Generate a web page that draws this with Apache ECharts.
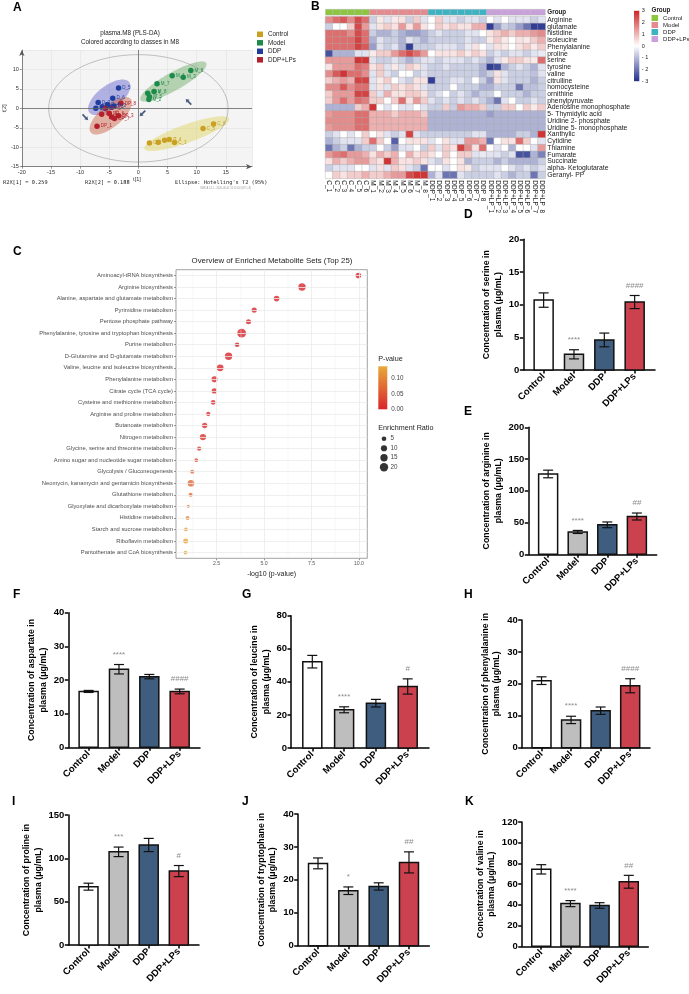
<!DOCTYPE html>
<html lang="en">
<head>
<meta charset="UTF-8">
<title>Plasma metabolomics</title>
<script src="https://cdn.jsdelivr.net/npm/echarts@6/dist/echarts.min.js"></script>
<style>
html,body{margin:0;padding:0;background:#fff;}
#main{width:689px;height:994px;}
</style>
</head>
<body>
<div id="main"></div>
<script>
var font = 'Liberation Sans, Arial, sans-serif';

// ---------- A: PLS-DA scores ----------
var plsGroups = ['Control', 'Model', 'DDP', 'DDP+LPs'];
var plsColors = ['#c9a022', '#1c8a4a', '#1f3d9c', '#b3202b'];
var ctrlScores = [[1.9, -8.9, 'C_1'], [3.4, -8.7, ''], [4.5, -8.2, 'C_2'], [5.3, -8.0, 'C_4'], [6.2, -8.8, 'C_3'], [11.1, -5.2, 'C_5'], [12.9, -4.05, 'C_6']];
var modelScores = [[5.8, 8.4, 'M_1'], [9.0, 9.7, 'M_9'], [7.7, 8.0, 'M_3'], [3.2, 6.3, 'M_7'], [1.6, 3.9, 'M_4'], [2.7, 4.3, 'M_8'], [1.9, 3.0, 'M_5'], [1.8, 2.3, 'M_2']];
var ddpScores = [[-3.4, 5.2, 'D_5'], [-4.4, 2.6, 'D_6'], [-6.9, 1.5, 'D_7'], [-6.2, 0.4, 'D_1'], [-5.3, 1.0, 'D_4'], [-4.2, 0.6, 'D_3'], [-7.3, 0.0, 'D_2'], [-4.6, 0.3, 'D_8']];
var lpsScores = [[-3.0, 1.3, 'DP_8'], [-6.3, -1.5, 'DP_4'], [-5.0, -1.3, 'DP_6'], [-4.6, -2.2, 'DP_2'], [-4.1, -2.6, 'DP_7'], [-3.4, -1.9, 'DP_3'], [-7.1, -4.6, 'DP_1'], [-5.6, 0.0, 'DP_5']];
// ellipse: centre x, centre y, half-axis u (x,y), half-axis v (x,y)
var ctrlEllipse = [8.3, -6.5, 7.27, 3.88, 0.52, -2.2];
var modelEllipse = [6.0, 6.9, 5.65, 4.74, 0.75, -2.03];
var ddpEllipse = [-5.0, 2.84, 3.43, 3.88, 1.2, -2.41];
var lpsEllipse = [-4.74, -1.9, 3.43, 4.31, 1.2, -2.19];
var t2Ellipse = [0, 0, 15.4, 0, 0, 13.8];
var plsArrows = [[-9.1, -2.3, -135], [0.7, -1.3, 135], [8.6, 1.7, 45]];

// ---------- B: heatmap ----------
var heatCols = ['C_1','C_2','C_3','C_4','C_5','C_6','M_1','M_2','M_3','M_4','M_5','M_6','M_7','M_8',
  'DDP_1','DDP_2','DDP_3','DDP_4','DDP_5','DDP_6','DDP_7','DDP_8',
  'DDP+LP_1','DDP+LP_2','DDP+LP_3','DDP+LP_4','DDP+LP_5','DDP+LP_6','DDP+LP_7','DDP+LP_8'];
var heatColGroup = [0,0,0,0,0,0,1,1,1,1,1,1,1,1,2,2,2,2,2,2,2,2,3,3,3,3,3,3,3,3];
var heatGroupColors = ['#8cc63f', '#e58a8f', '#3bb3c3', '#c9a0dc'];
var heatRowNames = ['Arginine','glutamate','histidine','isoleucine','Phenylalanine','proline','serine','tyrosine','valine','citrulline',
  'homocysteine','ornithine','phenylpyruvate','Adenosine monophosphate','5- Thymidylic acid','Uridine 2- phosphate',
  'Uridine 5- monophosphate','Xanthylic','Cytidine','Thiamine','Fumarate','Succinate','alpha- Ketoglutarate','Geranyl- PP'];
var heatValues = [
  [1.6,2.0,2.3,1.6,2.5,2.0, -0.7,0.3,-0.4,0.3,0.4,-0.7,0.7,-0.4, 0,0.7,-0.4,-0.4,-0.7,-0.4,-0.4,-0.7, 0,-0.4,0,-0.4,-0.4,-0.4,-0.7,-0.4],
  [-0.7,0,0,0.7,2.5,1.4, -0.4,0.4,0.7,0.4,1.4,0.4,1.4,0.4, 0,0.7,0.4,0.7,0.4,0.4,1.1,1.1, -2.8,-1.4,-0.7,-0.9,-1.4,-2.0,-2.8,-2.8],
  [2.0,2.0,2.0,1.6,2.5,2.0, -0.7,-1.1,-1.1,-0.7,-1.1,-1.4,-1.4,-1.1, -0.7,-0.4,-0.7,-0.7,-0.7,-0.4,-0.4,0, 0.4,0.7,1.1,0.7,1.1,1.1,1.4,1.6],
  [2.0,2.0,2.0,2.0,2.6,2.0, -1.1,-0.4,-0.7,-0.7,-1.1,-0.4,-0.7,-1.1, -0.7,-0.7,-0.7,-0.7,-0.7,-0.4,-0.7,-0.7, 0.3,0.7,0.3,0,0.4,0.3,0.7,1.1],
  [2.0,2.0,2.0,2.0,2.6,2.3, -1.4,-0.4,-0.7,-0.4,-1.1,-2.8,-0.7,-0.7, -0.7,-0.4,-0.4,-0.4,-0.7,-0.3,0.4,0, -0.4,0.4,0.3,0,0.4,0.7,0.3,0.7],
  [-2.5,-1.1,-1.1,-1.1,-0.4,-0.4, 0.3,0.7,0.7,1.4,2.0,2.5,2.0,1.4, 0,0.4,0.4,0.4,0.7,0.3,0.7,0.4, -0.7,-0.4,-0.7,-0.4,-0.4,-0.7,-0.4,-0.3],
  [1.4,1.4,1.4,1.4,2.8,2.8, -0.4,-0.7,-0.7,-0.4,-0.7,-1.1,-0.7,-0.4, -0.4,-0.7,-0.4,-0.4,-0.4,-0.7,-0.4,-0.7, -1.1,-0.4,0.3,0.7,0.7,0.4,0.3,2.0],
  [0.4,1.4,1.4,1.4,2.0,1.8, 0.4,0.7,-0.4,0.3,-0.4,0.7,0.4,-0.4, -0.7,-0.7,-0.4,-0.7,-0.7,-0.7,-0.7,-1.1, -2.8,-2.6,-1.1,-0.7,-0.4,-0.7,-1.1,-0.4],
  [1.6,2.3,2.8,2.0,2.0,1.6, -0.4,0.7,-0.4,-0.7,0,0,-0.7,-0.4, -0.7,-0.7,-0.7,-0.7,-0.7,-0.7,-0.7,-1.1, -0.7,0.4,-0.4,-0.7,-0.7,-0.7,-0.9,-0.4],
  [0.7,1.1,1.4,1.1,2.6,2.6, -0.4,0.3,0.7,0,-0.4,-0.7,0.4,0.4, -2.8,-0.7,-0.7,-0.4,-0.4,-0.7,0,-0.7, -1.4,0.4,-0.4,-0.7,-0.7,-0.7,-1.1,-0.7],
  [1.6,1.6,2.3,1.6,2.0,2.0, -0.4,0.4,-0.4,0.7,0.4,0.7,0.4,-0.4, -0.7,-0.7,-0.7,0,-0.7,-0.7,-0.7,-1.1, -1.1,-0.7,-0.7,-0.7,-2.0,-0.9,-0.9,-0.7],
  [0.7,1.4,1.4,1.4,2.6,2.6, 0.7,-0.4,1.1,0.4,0.4,0.7,0.7,0.4, -0.7,-0.4,0,-0.7,-0.4,-0.7,-1.1,-0.7, -0.7,0,-0.7,-0.7,-0.7,-1.1,-0.7,-0.7],
  [0.7,1.4,2.0,1.4,2.0,1.8, 0.7,0.7,0,0.7,2.0,0.4,1.4,0.7, -0.4,-0.7,-0.4,-0.7,-0.4,-0.7,-0.4,-0.7, -1.1,-2.0,-0.4,0,-0.7,-0.7,-0.4,-0.7],
  [-1.1,-1.1,-1.1,-1.1,0.7,1.1, 2.8,0,-0.4,0,-0.4,-0.4,0,-0.4, -0.7,-0.7,0.7,-0.7,1.4,1.1,1.1,0.7, -0.7,-0.7,0.7,0.7,0,0.7,0.3,0.7],
  [1.4,1.6,1.6,1.6,2.0,2.0, 1.1,1.1,1.1,0.7,1.1,1.1,1.1,0.7, -1.1,-1.1,-1.1,-1.1,-1.1,-1.1,-1.1,-1.1, -1.4,-1.1,-1.1,-1.1,-1.1,-1.1,-1.1,-1.1],
  [1.6,1.6,1.6,1.6,2.0,2.0, 1.1,1.1,1.1,1.1,1.1,1.1,1.1,1.1, -1.1,-1.1,-1.1,-1.1,-1.1,-1.1,-1.1,-1.1, -1.1,-1.1,-1.1,-1.1,-1.1,-1.1,-1.1,-1.1],
  [1.4,1.6,1.6,1.6,2.0,2.0, 1.1,1.1,1.1,1.1,1.1,1.1,1.1,1.1, -1.1,-1.1,-1.1,-1.1,-1.1,-1.1,-1.1,-1.1, -1.1,-1.1,-1.1,-1.1,-1.1,-1.1,-1.1,-1.1],
  [-0.7,-0.4,0,-0.4,0,0.7, 0,0.4,-0.4,-0.7,-0.4,2.6,-0.4,-0.7, -0.7,-0.7,-0.7,-0.7,-0.7,-0.7,-0.4,-0.4, -1.1,-1.1,-1.1,-1.1,-0.7,-0.7,-1.1,2.8],
  [-1.1,-0.7,-0.4,-0.4,-0.4,0.7, 2.0,0.7,0,-2.3,0,0.4,0.4,0.4, -0.4,0,0.4,-0.4,-0.4,1.4,1.4,1.1, -2.0,0,0.4,0.4,2.0,0.7,0,-0.4],
  [-2.0,-1.1,-0.7,-2.0,-1.1,-0.7, -0.7,0,-0.7,-1.4,-0.4,-0.4,0,-0.7, 0.7,-0.4,0.7,0.4,2.6,1.6,0.4,2.0, 0,-0.4,0,-1.1,0,0,-0.4,1.4],
  [1.4,1.8,2.0,1.4,1.4,1.1, 0.4,1.1,0.7,1.1,0,1.1,0.4,0.7, 0.4,0,0.7,0,0.7,0.7,-0.4,-0.3, -0.4,-0.4,-0.7,-0.4,-2.5,-2.5,-1.1,-1.8],
  [0.4,1.1,0.7,1.1,1.4,1.4, 0.7,0.4,2.8,1.1,0.4,0.4,0.7,0.4, -0.4,-0.7,0.4,0,0.4,-1.1,-0.7,-0.7, -0.7,-1.1,-0.7,-1.1,-1.1,-1.1,-1.1,-0.7],
  [-0.7,-0.4,-0.4,-0.4,0,0, -0.4,0.4,-0.4,0.7,0.4,-0.4,-0.7,-2.0, 0,0,-0.4,0,0.4,0.3,-0.7,-0.4, -0.4,-0.4,0,-0.4,-0.7,-0.4,-0.7,-0.4],
  [0,0.7,0.4,0.7,0.7,1.1, 0.7,0.7,1.1,1.4,1.4,2.5,2.8,2.8, -1.1,-0.4,-2.0,-2.0,-0.4,-0.7,-0.7,-0.7, -0.7,-0.4,-0.7,-1.1,-0.7,-0.7,-2.0,-0.7]
];
var heatScaleTicks = [3, 2, 1, 0, -1, -2, -3];

// ---------- C: enrichment overview ----------
var pathways = ['Aminoacyl-tRNA biosynthesis','Arginine biosynthesis','Alanine, aspartate and glutamate metabolism','Pyrimidine metabolism',
  'Pentose phosphate pathway','Phenylalanine, tyrosine and tryptophan biosynthesis','Purine metabolism','D-Glutamine and D-glutamate metabolism',
  'Valine, leucine and isoleucine biosynthesis','Phenylalanine metabolism','Citrate cycle (TCA cycle)','Cysteine and methionine metabolism',
  'Arginine and proline metabolism','Butanoate metabolism','Nitrogen metabolism','Glycine, serine and threonine metabolism',
  'Amino sugar and nucleotide sugar metabolism','Glycolysis / Gluconeogenesis','Neomycin, kanamycin and gentamicin biosynthesis',
  'Glutathione metabolism','Glyoxylate and dicarboxylate metabolism','Histidine metabolism','Starch and sucrose metabolism',
  'Riboflavin metabolism','Pantothenate and CoA biosynthesis'];
var pathLogP = [9.97, 7.0, 5.66, 4.48, 4.18, 3.82, 3.58, 3.13, 2.69, 2.39, 2.38, 2.32, 2.06, 1.87, 1.78, 1.58, 1.43, 1.22, 1.15, 1.13, 1.01, 0.97, 0.88, 0.87, 0.86];
var pathRatio = [8, 15, 8, 6.5, 6, 23, 5, 15, 12, 9.5, 7, 5, 4, 7, 10.5, 4, 2.7, 3.2, 12, 3.2, 1.4, 3.2, 2.6, 6, 2.6];
var ratioLegend = [5, 10, 15, 20];
var logPTicks = [2.5, 5, 7.5, 10];
var logPMinor = [1.25, 3.75, 6.25, 8.75];

// ---------- D-K: bar panels ----------
var barGroups = ['Control', 'Model', 'DDP', 'DDP+LPs'];
var serineMean = [10.7, 2.4, 4.6, 10.4], serineSem = [1.1, 0.7, 1.05, 1.0], serineSig = ['', '****', '', '####'];
var arginineMean = [126.5, 35.2, 46.4, 59.5], arginineSem = [6.0, 2.4, 4.5, 5.5], arginineSig = ['', '****', '', '##'];
var aspartateMean = [16.6, 23.2, 21.0, 16.6], aspartateSem = [0.3, 1.4, 0.65, 0.7], aspartateSig = ['', '****', '', '####'];
var leucineMean = [52.2, 23.1, 27.1, 37.2], leucineSem = [3.8, 1.8, 2.3, 4.6], leucineSig = ['', '****', '', '#'];
var phenylalanineMean = [21.0, 8.7, 11.6, 19.4], phenylalanineSem = [1.2, 1.15, 1.15, 2.2], phenylalanineSig = ['', '****', '', '####'];
var prolineMean = [67.3, 107.5, 115.4, 85.3], prolineSem = [4.0, 5.5, 7.6, 6.4], prolineSig = ['', '***', '', '#'];
var tryptophaneMean = [25.0, 16.7, 18.0, 25.3], tryptophaneSem = [1.65, 1.15, 1.1, 3.2], tryptophaneSig = ['', '*', '', '##'];
var valineMean = [74.3, 41.2, 39.4, 62.3], valineSem = [4.5, 2.9, 2.7, 6.2], valineSig = ['', '****', '', '##'];

// ---------- build ----------
var grid = [], xAxis = [], yAxis = [], series = [], legend = [], visualMap = [], graphic = [];

function txt(x, y, s, size, opts) {
  opts = opts || {};
  graphic.push({type: 'text', x: x, y: y, silent: true, style: {
    text: s, fill: opts.color || '#000', font: (opts.weight || 'normal') + ' ' + size + 'px ' + (opts.family || font),
    textAlign: opts.align || 'left', align: opts.align || 'left',
    textVerticalAlign: 'middle', verticalAlign: 'middle'
  }});
}

function ellipseRender(e, style) {
  return function (params, api) {
    var pts = [];
    for (var k = 0; k < 90; k++) {
      var t = k / 90 * Math.PI * 2;
      pts.push(api.coord([e[0] + Math.cos(t) * e[2] + Math.sin(t) * e[4], e[1] + Math.cos(t) * e[3] + Math.sin(t) * e[5]]));
    }
    return {type: 'polygon', shape: {points: pts}, style: style};
  };
}

// ---- panel A
var gA = grid.length;
grid.push({left: 21.7, top: 50, width: 230.3, height: 116.7, show: true, backgroundColor: '#f4f4f4', borderWidth: 0});
xAxis.push({gridIndex: gA, type: 'value', min: -20, max: 19.5, interval: 5,
  axisLine: {onZero: false, lineStyle: {color: '#555', width: 0.7}, symbol: ['none', 'arrow'], symbolSize: [4, 6]},
  axisTick: {length: 2, lineStyle: {color: '#555', width: 0.6}},
  axisLabel: {fontSize: 5.5, color: '#333', margin: 3, showMaxLabel: false},
  splitLine: {lineStyle: {color: '#e0e0e0', width: 0.6}},
  name: 't[1]', nameLocation: 'middle', nameGap: 9, nameTextStyle: {fontSize: 5.5, color: '#333'}});
yAxis.push({gridIndex: gA, type: 'value', min: -15, max: 15, interval: 5,
  axisLine: {onZero: false, lineStyle: {color: '#555', width: 0.7}, symbol: ['none', 'arrow'], symbolSize: [4, 6]},
  axisTick: {length: 2, lineStyle: {color: '#555', width: 0.6}},
  axisLabel: {fontSize: 5.5, color: '#333', margin: 3, showMaxLabel: false},
  splitLine: {lineStyle: {color: '#e0e0e0', width: 0.6}},
  name: 't[2]', nameLocation: 'middle', nameGap: 12, nameTextStyle: {fontSize: 5.5, color: '#333'}});

[ctrlEllipse, modelEllipse, ddpEllipse, lpsEllipse].forEach(function (e, i) {
  var fills = ['rgba(222,210,90,0.45)', 'rgba(90,160,80,0.42)', 'rgba(80,80,200,0.42)', 'rgba(200,90,60,0.45)'];
  series.push({type: 'custom', xAxisIndex: gA, yAxisIndex: gA, silent: true, z: 1,
    renderItem: ellipseRender(e, {fill: fills[i], stroke: 'none'}), data: [[e[0], e[1]]]});
});
series.push({type: 'custom', xAxisIndex: gA, yAxisIndex: gA, silent: true, z: 1,
  renderItem: ellipseRender(t2Ellipse, {fill: 'none', stroke: '#9a9a9a', lineWidth: 0.6}), data: [[0, 0]]});
series.push({type: 'scatter', xAxisIndex: gA, yAxisIndex: gA, data: [], silent: true,
  markLine: {silent: true, symbol: 'none', label: {show: false}, lineStyle: {color: '#666', width: 0.8, type: 'solid'},
    data: [{xAxis: 0}, {yAxis: 0}]}});
[ctrlScores, modelScores, ddpScores, lpsScores].forEach(function (pts, i) {
  series.push({type: 'scatter', name: plsGroups[i], xAxisIndex: gA, yAxisIndex: gA, z: 4,
    symbolSize: 5.5, itemStyle: {color: plsColors[i], opacity: 1},
    label: {show: true, position: 'right', distance: 1, fontSize: 4.5, color: plsColors[i],
      formatter: function (p) { return p.value[2]; }},
    data: pts});
});
series.push({type: 'scatter', xAxisIndex: gA, yAxisIndex: gA, z: 5, silent: true,
  symbol: 'path://M5,0 L10,5 L7,5 L7,12 L3,12 L3,5 L0,5 Z', symbolSize: [4.5, 8],
  symbolRotate: function (v) { return v[2]; }, itemStyle: {color: '#1f3864'}, data: plsArrows});
legend.push({left: 257, top: 30.8, padding: 0, orient: 'vertical', icon: 'rect', itemWidth: 6, itemHeight: 5.5, itemGap: 1.5,
  textStyle: {fontSize: 6.3, color: '#222', fontFamily: font, lineHeight: 7}, selectedMode: false, data: plsGroups});

txt(13, 8, 'A', 12, {weight: 'bold'});
txt(130, 33.3, 'plasma.M8 (PLS-DA)', 6.3, {align: 'center', color: '#222'});
txt(130, 42.7, 'Colored according to classes in M8', 6.3, {align: 'center', color: '#222'});
txt(3, 183, 'R2X[1] = 0.259', 5.3, {family: 'DejaVu Sans Mono, monospace', color: '#222'});
txt(85, 183, 'R2X[2] = 0.188', 5.3, {family: 'DejaVu Sans Mono, monospace', color: '#222'});
txt(175, 183, "Ellipse: Hotelling's T2 (95%)", 5.3, {family: 'DejaVu Sans Mono, monospace', color: '#222'});
txt(200, 188.5, 'SIMCA 14.1 - 2020-09-01 10:15:00 (UTC+8)', 2.6, {color: '#999'});

// ---- panel B
var gG = grid.length;
grid.push({left: 325.5, top: 9.3, width: 219.8, height: 5.8});
xAxis.push({gridIndex: gG, type: 'category', data: heatCols, show: false});
yAxis.push({gridIndex: gG, type: 'category', data: ['Group'], position: 'right',
  axisLine: {show: false}, axisTick: {show: false},
  axisLabel: {fontSize: 6.3, fontWeight: 'bold', color: '#222', margin: 2}});
plsGroups.forEach(function (g, gi) {
  var d = [];
  heatColGroup.forEach(function (cg, c) { if (cg === gi) d.push([c, 0]); });
  series.push({type: 'custom', name: 'grp:' + g, xAxisIndex: gG, yAxisIndex: gG, silent: true,
    itemStyle: {color: heatGroupColors[gi]},
    renderItem: function (params, api) {
      var p = api.coord([api.value(0), api.value(1)]);
      var s = api.size([1, 1]);
      return {type: 'rect', shape: {x: p[0] - s[0] / 2, y: p[1] - s[1] / 2, width: s[0], height: s[1]},
        style: {fill: api.visual('color'), stroke: '#b0b0b0', lineWidth: 0.4}};
    }, data: d});
});

var gH = grid.length;
grid.push({left: 325.5, top: 16.7, width: 219.8, height: 161.6});
xAxis.push({gridIndex: gH, type: 'category', data: heatCols,
  axisLine: {show: false}, axisTick: {show: false},
  axisLabel: {interval: 0, rotate: -90, fontSize: 6.5, color: '#222', margin: 2}});
yAxis.push({gridIndex: gH, type: 'category', data: heatRowNames, inverse: true, position: 'right',
  axisLine: {show: false}, axisTick: {show: false},
  axisLabel: {interval: 0, fontSize: 6.8, color: '#222', margin: 2}});
var heatData = [];
heatValues.forEach(function (row, r) { row.forEach(function (v, c) { heatData.push([c, r, v]); }); });
var heatSeriesIndex = series.length;
series.push({type: 'heatmap', xAxisIndex: gH, yAxisIndex: gH, silent: true, data: heatData,
  itemStyle: {borderColor: '#a8a8a8', borderWidth: 0.4}});
visualMap.push({type: 'continuous', show: false, min: -3, max: 3, dimension: 2, seriesIndex: heatSeriesIndex,
  inRange: {color: ['#22308c', '#ffffff', '#cd2626']}});

var gHc = grid.length;
grid.push({left: 634, top: 10.8, width: 5.3, height: 70.4});
xAxis.push({gridIndex: gHc, type: 'category', data: ['c'], show: false});
yAxis.push({gridIndex: gHc, type: 'value', min: -3, max: 3, interval: 1, position: 'right',
  axisLine: {show: false}, axisTick: {show: false}, splitLine: {show: false},
  axisLabel: {fontSize: 5.5, color: '#222', margin: 2.5, formatter: function (v) { return v < 0 ? '- ' + (-v) : String(v); }}});
series.push({type: 'custom', xAxisIndex: gHc, yAxisIndex: gHc, silent: true, data: [[0, 3]],
  renderItem: function (params, api) {
    var a = api.coord([0, heatScaleTicks[0]]), b = api.coord([0, heatScaleTicks[heatScaleTicks.length - 1]]);
    var w = api.size([1, 0])[0];
    return {type: 'rect', shape: {x: a[0] - w / 2, y: a[1], width: w, height: b[1] - a[1]},
      style: {fill: new echarts.graphic.LinearGradient(0, 0, 0, 1, [
        {offset: 0, color: '#cd2626'}, {offset: 0.5, color: '#ffffff'}, {offset: 1, color: '#22308c'}])}};
  }});
legend.push({left: 651.5, top: 15, padding: 0, orient: 'vertical', icon: 'rect', itemWidth: 6.6, itemHeight: 6, itemGap: 1,
  textStyle: {fontSize: 6, color: '#222', fontFamily: font, lineHeight: 6}, selectedMode: false, itemTextGap: 3,
  formatter: function (n) { return n.replace('grp:', ''); },
  data: plsGroups.map(function (g) { return 'grp:' + g; })});
txt(651.5, 10.5, 'Group', 6.3, {weight: 'bold', color: '#222'});
txt(311, 7, 'B', 12, {weight: 'bold'});

// ---- panel C
var gC = grid.length;
grid.push({left: 176, top: 269.7, width: 191.3, height: 288.6, show: true, borderColor: '#8c8c8c', borderWidth: 0.8, backgroundColor: '#fff'});
xAxis.push({gridIndex: gC, type: 'value', min: 0.36, max: 10.44,
  axisLine: {show: false}, splitLine: {show: false},
  axisTick: {show: true, customValues: logPTicks, length: 2, lineStyle: {color: '#555', width: 0.6}},
  axisLabel: {customValues: logPTicks, fontSize: 5.2, color: '#555', margin: 3, formatter: function (v) { return v.toFixed(1); }},
  name: '-log10 (p-value)', nameLocation: 'middle', nameGap: 12, nameTextStyle: {fontSize: 7, color: '#222'}});
yAxis.push({gridIndex: gC, type: 'category', data: pathways, inverse: true,
  axisLine: {show: false}, axisTick: {show: true, alignWithLabel: true, length: 2, lineStyle: {color: '#555', width: 0.6}},
  axisLabel: {interval: 0, fontSize: 5.8, color: '#4d4d4d', margin: 3}, splitLine: {show: false}});
var gridLines = [];
logPMinor.forEach(function (v) { gridLines.push({xAxis: v, lineStyle: {width: 0.4}}); });
logPTicks.forEach(function (v) { gridLines.push({xAxis: v, lineStyle: {width: 0.8}}); });
pathways.forEach(function (p) { gridLines.push({yAxis: p, lineStyle: {width: 0.8}}); });
series.push({type: 'scatter', xAxisIndex: gC, yAxisIndex: gC, data: [], silent: true, z: 1,
  markLine: {silent: true, symbol: 'none', label: {show: false}, lineStyle: {color: '#ebebeb', type: 'solid'}, data: gridLines}});
var dotSeriesIndex = series.length;
function ratioSize(r) { return 1.1 + 1.61 * Math.sqrt(r); }
series.push({type: 'scatter', xAxisIndex: gC, yAxisIndex: gC, z: 3, silent: true,
  symbolSize: function (v) { return ratioSize(v[2]); },
  data: pathways.map(function (p, i) { return [pathLogP[i], p, pathRatio[i], Math.pow(10, -pathLogP[i])]; })});
visualMap.push({type: 'continuous', show: false, min: 0, max: 0.14, dimension: 3, seriesIndex: dotSeriesIndex,
  inRange: {color: ['#d8262c', '#e8a93a']}});

var gPc = grid.length;
grid.push({left: 378.3, top: 366.3, width: 9, height: 43});
xAxis.push({gridIndex: gPc, type: 'category', data: ['p'], show: false});
yAxis.push({gridIndex: gPc, type: 'value', min: 0, max: 0.14, interval: 0.05, position: 'right',
  axisLine: {show: false}, axisTick: {show: false}, splitLine: {show: false},
  axisLabel: {fontSize: 6.3, color: '#444', margin: 4, showMaxLabel: false, formatter: function (v) { return v.toFixed(2); }}});
series.push({type: 'custom', xAxisIndex: gPc, yAxisIndex: gPc, silent: true, data: [[0, 0]],
  renderItem: function (params, api) {
    var a = api.coord([0, 0.14]), b = api.coord([0, 0]);
    var w = api.size([1, 0])[0];
    return {type: 'rect', shape: {x: a[0] - w / 2, y: a[1], width: w, height: b[1] - a[1]},
      style: {fill: new echarts.graphic.LinearGradient(0, 0, 0, 1, [{offset: 0, color: '#e8a93a'}, {offset: 1, color: '#d8262c'}])}};
  }});
var gRl = grid.length;
grid.push({left: 380.5, top: 434, width: 7, height: 38});
xAxis.push({gridIndex: gRl, type: 'category', data: ['r'], show: false});
yAxis.push({gridIndex: gRl, type: 'category', data: ratioLegend.map(String), inverse: true, position: 'right',
  axisLine: {show: false}, axisTick: {show: false}, axisLabel: {fontSize: 6.3, color: '#444', margin: 3}});
series.push({type: 'scatter', xAxisIndex: gRl, yAxisIndex: gRl, silent: true, itemStyle: {color: '#000'},
  symbolSize: function (v) { return ratioSize(v[2]); },
  data: ratioLegend.map(function (r, i) { return [0, i, r]; })});
txt(378.3, 359, 'P-value', 7.2, {color: '#222'});
txt(378.3, 428, 'Enrichment Ratio', 7.2, {color: '#222'});
txt(272, 261, 'Overview of Enriched Metabolite Sets (Top 25)', 7.8, {align: 'center', color: '#222'});
txt(13, 252, 'C', 12, {weight: 'bold'});

// ---- bar panels
var barColors = ['#ffffff', '#bebebe', '#3f5e7f', '#cb414d'];
function addBarPanel(L, yName, mean, sem, sig) {
  var gi = grid.length;
  grid.push({left: L.left, top: L.top, width: L.right - L.left, height: L.bottom - L.top});
  xAxis.push({gridIndex: gi, type: 'value', min: -0.67, max: 3.67,
    axisLine: {show: true, onZero: false, lineStyle: {color: '#000', width: 1.5}},
    axisTick: {show: true, customValues: [0, 1, 2, 3], length: 3.5, lineStyle: {color: '#000', width: 1.5}},
    axisLabel: {customValues: [0, 1, 2, 3], formatter: function (v) { return barGroups[Math.round(v)]; },
      rotate: 45, fontSize: 9.5, fontWeight: 'bold', color: '#000', margin: 5},
    splitLine: {show: false}});
  yAxis.push({gridIndex: gi, type: 'value', min: 0, max: L.max, interval: L.step,
    axisLine: {show: true, onZero: false, lineStyle: {color: '#000', width: 1.5}},
    axisTick: {show: true, length: 3.5, lineStyle: {color: '#000', width: 1.5}},
    axisLabel: {fontSize: 9.5, fontWeight: 'bold', color: '#000', margin: 4},
    splitLine: {show: false},
    name: yName, nameLocation: 'middle', nameGap: L.gap, nameTextStyle: {fontSize: 8.8, fontWeight: 'bold', color: '#000', lineHeight: 11.5}});
  series.push({type: 'custom', xAxisIndex: gi, yAxisIndex: gi, silent: true, z: 2,
    data: mean.map(function (m, i) { return [i, m]; }),
    renderItem: function (params, api) {
      var i = api.value(0);
      var b = api.coord([i, 0]), t = api.coord([i, api.value(1)]);
      return {type: 'rect', shape: {x: b[0] - 9.5, y: t[1], width: 19, height: b[1] - t[1]},
        style: {fill: barColors[i], stroke: '#111', lineWidth: 1.5}};
    }});
  series.push({type: 'custom', xAxisIndex: gi, yAxisIndex: gi, silent: true, z: 3,
    data: mean.map(function (m, i) { return [i, m, sem[i]]; }),
    renderItem: function (params, api) {
      var i = api.value(0), m = api.value(1), e = api.value(2);
      var hi = api.coord([i, m + e]), lo = api.coord([i, m - e]);
      var st = {stroke: '#111', lineWidth: 1.2, fill: 'none'};
      return {type: 'group', children: [
        {type: 'line', shape: {x1: hi[0], y1: hi[1], x2: lo[0], y2: lo[1]}, style: st},
        {type: 'line', shape: {x1: hi[0] - 5, y1: hi[1], x2: hi[0] + 5, y2: hi[1]}, style: st},
        {type: 'line', shape: {x1: lo[0] - 5, y1: lo[1], x2: lo[0] + 5, y2: lo[1]}, style: st}]};
    }});
  series.push({type: 'custom', xAxisIndex: gi, yAxisIndex: gi, silent: true, z: 4,
    data: mean.map(function (m, i) { return [i, m + sem[i]]; }),
    renderItem: function (params, api) {
      var s = sig[params.dataIndex];
      if (!s) return null;
      var p = api.coord([api.value(0), api.value(1)]);
      return {type: 'text', x: p[0], y: p[1] - 10, style: {text: s, fill: '#8c8c8c', font: '8px ' + font,
        textAlign: 'center', align: 'center', textVerticalAlign: 'middle', verticalAlign: 'middle'}};
    }});
}

addBarPanel({left: 523.3, right: 655, top: 239.3, bottom: 370, max: 20, step: 5, gap: 19},
  'Concentration of serine in\nplasma (\u03bcg/mL)', serineMean, serineSem, serineSig);
addBarPanel({left: 528.3, right: 656.7, top: 427.3, bottom: 554.3, max: 200, step: 50, gap: 24},
  'Concentration of arginine in\nplasma (\u03bcg/mL)', arginineMean, arginineSem, arginineSig);
addBarPanel({left: 68.3, right: 200, top: 612.7, bottom: 747.3, max: 40, step: 10, gap: 19},
  'Concentration of aspartate in\nplasma (\u03bcg/mL)', aspartateMean, aspartateSem, aspartateSig);
addBarPanel({left: 291, right: 429, top: 615.7, bottom: 748, max: 80, step: 20, gap: 19},
  'Concentration of leucine in\nplasma (\u03bcg/mL)', leucineMean, leucineSem, leucineSig);
addBarPanel({left: 521.7, right: 650, top: 620, bottom: 747.7, max: 40, step: 10, gap: 19},
  'Concentration of phenylalanine in\nplasma (\u03bcg/mL)', phenylalanineMean, phenylalanineSem, phenylalanineSig);
addBarPanel({left: 68.3, right: 199, top: 815, bottom: 945, max: 150, step: 50, gap: 24},
  'Concentration of proline in\nplasma (\u03bcg/mL)', prolineMean, prolineSem, prolineSig);
addBarPanel({left: 297.7, right: 429.3, top: 814, bottom: 945.7, max: 40, step: 10, gap: 19},
  'Concentration of tryptophane in\nplasma (\u03bcg/mL)', tryptophaneMean, tryptophaneSem, tryptophaneSig);
addBarPanel({left: 521.7, right: 648.3, top: 822, bottom: 946.3, max: 120, step: 20, gap: 24},
  'Concentration of valine in\nplasma (\u03bcg/mL)', valineMean, valineSem, valineSig);

txt(464, 215, 'D', 12, {weight: 'bold'});
txt(464, 412, 'E', 12, {weight: 'bold'});
txt(13, 595, 'F', 12, {weight: 'bold'});
txt(242, 595, 'G', 12, {weight: 'bold'});
txt(464, 595, 'H', 12, {weight: 'bold'});
txt(12, 802, 'I', 12, {weight: 'bold'});
txt(242, 802, 'J', 12, {weight: 'bold'});
txt(465, 802, 'K', 12, {weight: 'bold'});

var chart = echarts.init(document.getElementById('main'));
chart.setOption({
  animation: false,
  backgroundColor: '#fff',
  textStyle: {fontFamily: font},
  grid: grid, xAxis: xAxis, yAxis: yAxis, series: series,
  legend: legend, visualMap: visualMap, graphic: graphic
});
</script>
</body>
</html>
